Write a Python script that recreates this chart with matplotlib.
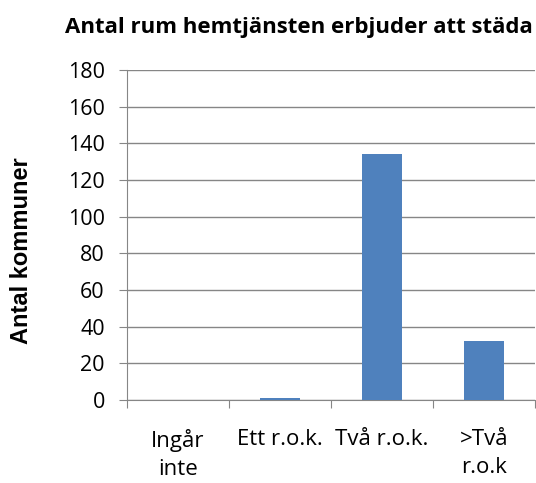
import matplotlib.pyplot as plt

kategorier = ["Ingår\ninte", "Ett r.o.k.", "Två r.o.k.", ">Två\nr.o.k"]
antal = [0, 1, 134, 32]
yticks = [0, 20, 40, 60, 80, 100, 120, 140, 160, 180]

plt.rcParams['font.family'] = ['Open Sans', 'DejaVu Sans']

fig = plt.figure(figsize=(5.36, 4.83), dpi=100)
ax = fig.add_axes([127/536, 83/483, 408/536, 330/483])

pos = list(range(len(kategorier)))
ax.bar(pos, antal, width=0.4, color='#4F81BD', zorder=3)

ax.set_xlim(-0.5, len(kategorier) - 0.5)
ax.set_ylim(0, 180)
ax.set_yticks(yticks)
ax.yaxis.grid(True, color='#868686', linewidth=1)
ax.set_axisbelow(True)

# kategorigränser som streck, etiketter i mitten
ax.set_xticks([p - 0.5 for p in pos] + [len(kategorier) - 0.5])
ax.set_xticklabels([])
ax.set_xticks(pos, minor=True)
ax.set_xticklabels(kategorier, minor=True, fontsize=16, linespacing=1.45)
ax.tick_params(axis='x', which='major', length=6, color='#868686', direction='out')
ax.tick_params(axis='x', which='minor', length=0, pad=21)
ax.tick_params(axis='y', length=6, color='#868686', labelsize=15.5, pad=10)

for s in ['top', 'right']:
    ax.spines[s].set_visible(False)
ax.spines['left'].set_color('#868686')
ax.spines['bottom'].set_color('#868686')

fig.text(299/536, 1 - 28/483, "Antal rum hemtjänsten erbjuder att städa",
         ha='center', va='center', fontsize=16, fontweight='bold')
fig.text(22/536, 1 - 251/483, "Antal kommuner", rotation=90,
         ha='center', va='center', fontsize=17, fontweight='bold',
         family='Liberation Sans')

fig.savefig('out.png', dpi=100)
